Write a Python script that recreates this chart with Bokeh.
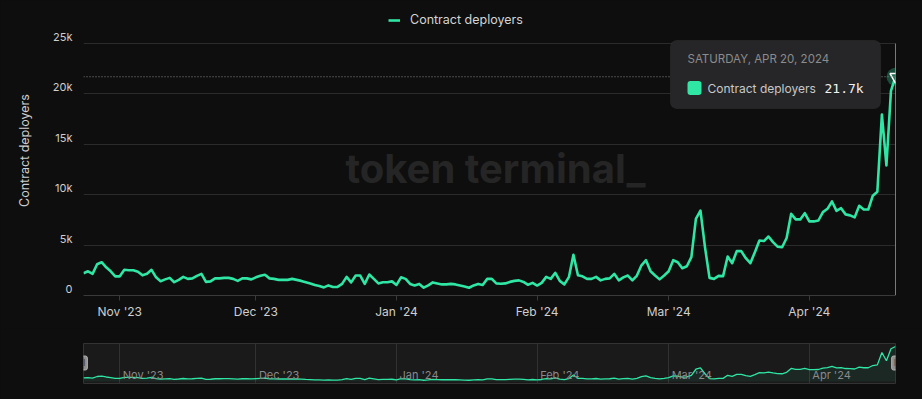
import pandas as pd
from bokeh.plotting import figure
from bokeh.layouts import column
from bokeh.models import (Range1d, FixedTicker, MonthsTicker,
                          DatetimeTickFormatter, Span, BoxAnnotation, Label,
                          Legend, LegendItem, ColumnDataSource)
from bokeh.core.properties import value
from bokeh.embed import file_html
from bokeh.resources import INLINE

# ---------------- data ----------------
series_name = "Contract deployers"
start_date = "2023-10-24"
deployers_oct = [2210, 2400, 2150, 3100, 3300, 2800, 2400, 1900]
deployers_nov = [1900, 2550, 2500, 2500, 2350, 2000, 2150, 2550, 1800, 1420,
                 1600, 1750, 1320, 1550, 1850, 1650, 1700, 1950, 2150, 1350,
                 1400, 1700, 1700, 1750, 1750, 1650, 1450, 1700, 1700, 1600]
deployers_dec = [1800, 1950, 2050, 1700, 1650, 1550, 1550, 1550, 1650, 1550,
                 1450, 1320, 1200, 1050, 950, 800, 1000, 850, 850, 1150,
                 1850, 1300, 1980, 1980, 1150, 2080, 1650, 1200, 1320, 1320, 1400]
deployers_jan = [1050, 1800, 1650, 1150, 1000, 1150, 780, 1000, 1300, 1200,
                 1100, 1100, 1150, 1100, 1000, 900, 770, 1000, 1150, 1050,
                 1650, 1650, 1200, 1160, 1200, 1350, 1450, 1500, 1350, 1060, 1250]
deployers_feb = [990, 1250, 1850, 1650, 2250, 1450, 1100, 1820, 4040, 2000,
                 1900, 1650, 1650, 1850, 1500, 1650, 1700, 2150, 1500, 1800,
                 1980, 1500, 1980, 3000, 3500, 2400, 1980, 1600, 1980]
deployers_mar = [2400, 3500, 3300, 2700, 2900, 3800, 7600, 8430, 4800, 1750,
                 1650, 1950, 1920, 3870, 3200, 4400, 4400, 3700, 3200, 4300,
                 5450, 5400, 5850, 5300, 4850, 4790, 5700, 8100, 7550, 7550, 8170]
deployers_apr = [7350, 7350, 7440, 8270, 8600, 9330, 8400, 8660, 8050, 7950,
                 7750, 8900, 8530, 8530, 9900, 10300, 17950, 12900, 20300, 21700]

month_tick_dates = ["2023-11-01", "2023-12-01", "2024-01-01",
                    "2024-02-01", "2024-03-01", "2024-04-01"]
month_labels = ["Nov '23", "Dec '23", "Jan '24", "Feb '24", "Mar '24", "Apr '24"]
y_ticks = [0, 5000, 10000, 15000, 20000, 25000]
y_tick_labels = ["0", "5k", "10k", "15k", "20k", "25k"]

values = (deployers_oct + deployers_nov + deployers_dec + deployers_jan +
          deployers_feb + deployers_mar + deployers_apr)
dates = pd.date_range(start_date, periods=len(values), freq="D")
src = ColumnDataSource(dict(date=dates, value=values))

# ---------------- style / layout ----------------
BG = "#0e0e0e"
GREEN = "#2fe6a5"
GRID = "#2b2b2b"
TXT = "#cfcfcf"
FONT = "Inter"
W = 922
MAIN_H, NAV_H = 328, 71
FR_L, FR_R, FR_T, FR_B = 83, 895, 5, 295       # main frame, page pixels
UNITS_PER_PX = 25000 / 252                      # 25k grid line 252 px above zero
Y_END = (FR_B - FR_T) * UNITS_PER_PX
NAV_T, NAV_B = 343, 383
NAV_LO, NAV_HI = -1240, 23560
LABEL_LIFT = 6.5 * UNITS_PER_PX                 # y labels sit above their grid lines

def ms(ts):
    return pd.Timestamp(ts).value / 1e6

x0, x1 = ms(dates[0]), ms(dates[-1])
def xd(px):
    return x0 + (px - FR_L) / (FR_R - FR_L) * (x1 - x0)
def yv(py):
    return (FR_B - py) * UNITS_PER_PX
def ynav(py):
    return NAV_LO + (NAV_B - py) / (NAV_B - NAV_T) * (NAV_HI - NAV_LO)

# ---------------- main figure ----------------
p = figure(width=W, height=MAIN_H, x_axis_type="datetime",
           x_range=Range1d(x0, x1), y_range=Range1d(0, Y_END),
           output_backend="svg", toolbar_location=None,
           min_border_left=FR_L, min_border_right=W - FR_R,
           min_border_top=FR_T, min_border_bottom=MAIN_H - FR_B,
           background_fill_color=BG, border_fill_color=BG, outline_line_color=None)

line_r = p.line(x="date", y="value", source=src, line_color=GREEN, line_width=2.6,
                line_join="round")

p.xgrid.grid_line_color = None
p.ygrid.ticker = FixedTicker(ticks=y_ticks)
p.ygrid.grid_line_color = GRID

lifted = [t + LABEL_LIFT for t in y_ticks]
p.yaxis.ticker = FixedTicker(ticks=lifted)
p.yaxis.major_label_overrides = {t: lab for t, lab in zip(lifted, y_tick_labels)}
p.yaxis.axis_line_color = None
p.yaxis.major_tick_line_color = None
p.yaxis.minor_tick_line_color = None
p.yaxis.major_tick_out = 0
p.yaxis.major_tick_in = 0
p.yaxis.major_label_standoff = 11
p.yaxis.axis_label = series_name
p.yaxis.axis_label_standoff = 18
p.yaxis.axis_label_text_font_style = "normal"
p.yaxis.axis_label_text_font_size = "12.5px"
p.yaxis.axis_label_text_color = TXT
p.yaxis.axis_label_text_font = FONT
p.yaxis.major_label_text_font_size = "11px"

p.xaxis.ticker = MonthsTicker(months=list(range(12)))
fmt = "%b '%y"
p.xaxis.formatter = DatetimeTickFormatter(days=fmt, months=fmt, years=fmt)
p.xaxis.axis_line_color = "#3a3a3a"
p.xaxis.major_tick_line_color = "#3a3a3a"
p.xaxis.major_tick_out = 5
p.xaxis.major_tick_in = 0
p.xaxis.minor_tick_line_color = None
p.xaxis.major_label_standoff = 3
p.xaxis.major_label_text_font_size = "12px"

for ax in (p.xaxis, p.yaxis):
    ax.major_label_text_color = TXT
    ax.major_label_text_font = FONT

# watermark
p.add_layout(Label(x=xd(495), y=yv(168), text="token terminal_",
                   text_font=FONT, text_font_size="40px", text_font_style="bold",
                   text_color="#252525", text_align="center", text_baseline="middle"))

# crosshair
p.add_layout(Span(location=values[-1], dimension="width", line_color="#8a8a8a",
                  line_dash="1 2", line_width=1))
p.segment(x0=[dates[-1]], y0=[0], x1=[dates[-1]], y1=[y_ticks[-1]],
          line_color="#e6e6e6", line_width=1)

# highlighted point
p.scatter(x=[dates[-1]], y=[values[-1]], size=18, fill_color=GREEN, fill_alpha=0.3,
          line_color=None)
p.scatter(x=[dates[-1]], y=[values[-1]], marker="inverted_triangle", size=11,
          fill_color="#1f6e52", line_color="white", line_width=1.5)

# tooltip
p.add_layout(BoxAnnotation(left=xd(670), right=xd(880), top=yv(40), bottom=yv(108),
                           fill_color="#262628", fill_alpha=1, line_color="#3a3a3c",
                           line_width=1, border_radius=6))
p.add_layout(BoxAnnotation(left=xd(687), right=xd(701), top=yv(80.5), bottom=yv(94.5),
                           fill_color=GREEN, fill_alpha=1, line_color=None, border_radius=3))
p.add_layout(Label(x=xd(687), y=yv(58), text=dates[-1].strftime("%A, %b %d, %Y").upper(),
                   text_font=FONT, text_font_size="11.5px", text_color="#8c8c8c",
                   text_baseline="middle"))
p.add_layout(Label(x=xd(707), y=yv(87.5), text=series_name,
                   text_font=FONT, text_font_size="12px", text_color="#c8c8c8",
                   text_baseline="middle"))
p.add_layout(Label(x=xd(824), y=yv(88), text=f"{values[-1] / 1000:.1f}k",
                   text_font="DejaVu Sans Mono", text_font_size="13px", text_color="#f2f2f2",
                   text_baseline="middle"))

# legend at the top (inside the tall frame)
legend = Legend(items=[LegendItem(label=series_name, renderers=[line_r])],
                location=(388 - FR_L, FR_B - 27), orientation="horizontal",
                background_fill_alpha=0, border_line_color=None,
                label_text_color="#d4d4d4", label_text_font=FONT,
                label_text_font_size="12.5px", glyph_width=12, glyph_height=14,
                label_height=14, padding=0, margin=0, label_standoff=10, spacing=0)
p.add_layout(legend)

# ---------------- navigator ----------------
n = figure(width=W, height=NAV_H, x_axis_type="datetime",
           x_range=p.x_range, y_range=Range1d(NAV_LO, NAV_HI),
           output_backend="svg", toolbar_location=None,
           min_border_left=FR_L, min_border_right=W - FR_R,
           min_border_top=NAV_T - MAIN_H, min_border_bottom=MAIN_H + NAV_H - NAV_B,
           background_fill_color="#1a1a1a", border_fill_color=BG,
           outline_line_color="#333333")
n.xaxis.visible = False
n.yaxis.visible = False
n.ygrid.grid_line_color = None
n.xgrid.ticker = MonthsTicker(months=list(range(12)))
n.xgrid.grid_line_color = "#323232"

n.varea(x="date", y1=0, y2="value", source=src, fill_color=GREEN, fill_alpha=0.07)
n.line(x="date", y="value", source=src, line_color=GREEN, line_width=1.3)
n.text(x=pd.to_datetime(month_tick_dates), y=[ynav(374)] * len(month_labels),
       text=month_labels, x_offset=3, text_baseline="middle", text_align="left",
       text_font=value(FONT), text_font_size="11px", text_color="#8a8a8a")

for xx in (x0, x1):
    n.add_layout(Label(x=xx, y=ynav(362.5), text="‖", text_font_size="9px",
                       text_color="#3c3c3c", text_align="center", text_baseline="middle",
                       background_fill_color="#8e8e8e", border_line_color="#b4b4b4",
                       padding=2, border_radius=2))

layout = column(p, n)
html = file_html(layout, INLINE, title="Contract deployers")
html = html.replace("<head>", "<head><style>html,body{background:#0e0e0e;}</style>", 1)
open("out.html", "w").write(html)
